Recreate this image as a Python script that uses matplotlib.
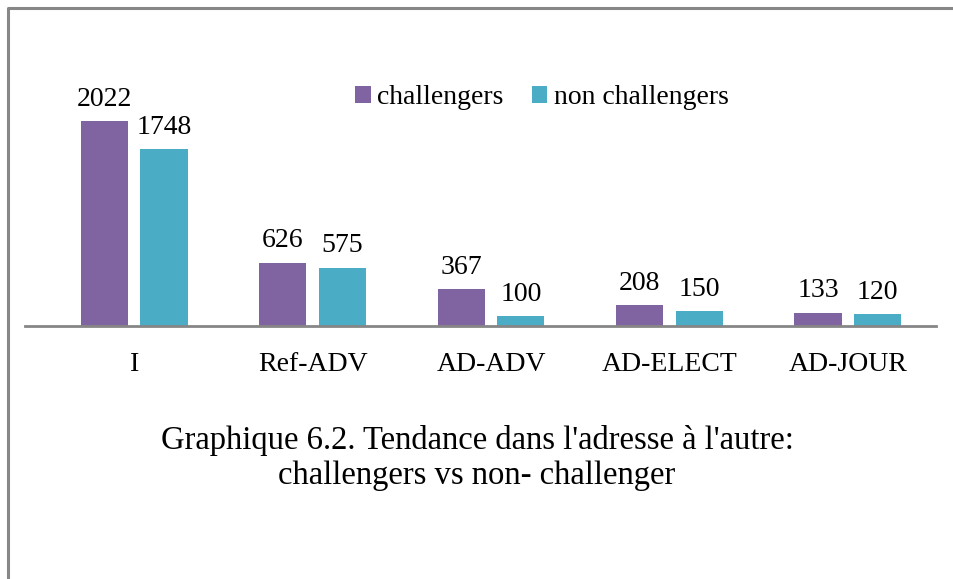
import numpy as np
import matplotlib.pyplot as plt
from matplotlib.lines import Line2D

categories = ["I", "Ref-ADV", "AD-ADV", "AD-ELECT", "AD-JOUR"]
challengers = [2022, 626, 367, 208, 133]
non_challengers = [1748, 575, 100, 150, 120]
series_names = ["challengers", "non challengers"]
title = "Graphique 6.2. Tendance dans l'adresse à l'autre:\nchallengers vs non- challenger"

purple = "#8064A2"
teal = "#4BACC6"

plt.rcParams['font.family'] = ['Liberation Serif', 'DejaVu Serif']

W, H = 954, 579
fig = plt.figure(figsize=(W / 100, H / 100), dpi=100)

# outer frame (only top and left visible)
fig.add_artist(Line2D([8 / W, 8 / W, 1.0], [0.0, 1 - 8 / H, 1 - 8 / H],
                      transform=fig.transFigure, color="#878787", lw=2.2))

ax = fig.add_axes([25 / W, (H - 326) / H, 911 / W, 266 / H])
x = np.arange(len(categories))
w = 0.265
off = 0.167
b1 = ax.bar(x - off, challengers, w, color=purple, label=series_names[0])
b2 = ax.bar(x + off, non_challengers, w, color=teal, label=series_names[1])

for bars, vals in ((b1, challengers), (b2, non_challengers)):
    for r, v in zip(bars, vals):
        ax.annotate(str(v), (r.get_x() + r.get_width() / 2, v), xytext=(0, 11),
                    textcoords="offset points", ha="center", va="baseline", fontsize=20)

ax.set_xlim(-0.612, 4.494)
ax.set_ylim(0, 2624)
ax.set_yticks([])
ax.set_xticks(x)
ax.set_xticklabels(categories, fontsize=20)
ax.tick_params(axis="x", length=0, pad=19)
for s in ("top", "right", "left"):
    ax.spines[s].set_visible(False)
ax.spines["bottom"].set_color("#868686")
ax.spines["bottom"].set_linewidth(2)

fig.legend(loc="center", bbox_to_anchor=(542 / W, 1 - 98 / H), ncol=2, frameon=False,
           fontsize=20, handlelength=0.55, handleheight=0.55, handletextpad=0.25,
           columnspacing=1.0)

fig.text(0.5, 1 - 458 / H, title, ha="center", va="center", fontsize=23.5, linespacing=1.18)

fig.savefig("out.png", dpi=100)
